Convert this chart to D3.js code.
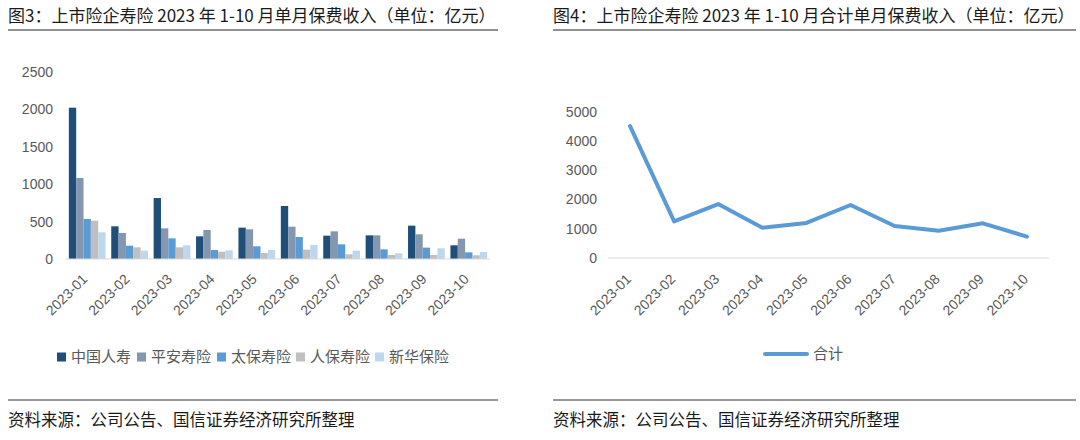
<!DOCTYPE html>
<html>
<head>
<meta charset="utf-8">
<script src="https://cdn.jsdelivr.net/npm/d3@7"></script>
<style>
  body { margin: 0; background: #fff; }
  text { font-family: "Liberation Sans", "Noto Sans CJK SC", sans-serif; }
  .cjk { font-family: "Noto Sans CJK SC", sans-serif; }
</style>
</head>
<body>
<div class="chart"></div>
<script>
var months = ["2023-01","2023-02","2023-03","2023-04","2023-05","2023-06","2023-07","2023-08","2023-09","2023-10"];
var companies = ["中国人寿","平安寿险","太保寿险","人保寿险","新华保险"];

// monthly premium by company (亿元)
var chinaLife = [2023, 437, 815, 303, 419, 709, 312, 316, 446, 183];
var pingAn    = [1083, 348, 410, 388, 397, 432, 370, 316, 330, 272];
var cpic      = [535, 178, 276, 120, 169, 294, 196, 129, 152, 89];
var picc      = [512, 156, 156, 98, 80, 125, 62, 53, 53, 49];
var nci       = [357, 111, 183, 116, 120, 187, 111, 76, 143, 94];
var seriesValues = [chinaLife, pingAn, cpic, picc, nci];

// total
var total = [4510, 1253, 1845, 1036, 1200, 1811, 1093, 934, 1185, 729];

var barTicks = [0, 500, 1000, 1500, 2000, 2500];
var lineTicks = [0, 1000, 2000, 3000, 4000, 5000];

var colors = ["#1f4e79", "#8497b0", "#5b9bd5", "#bfbfbf", "#bdd7ee"];

var svg = d3.select(".chart").append("svg")
    .attr("width", 1080)
    .attr("height", 440);

// ---------- headers / footers ----------
function frame(x0, x1, title) {
  svg.append("text").attr("class", "cjk")
      .attr("x", x0).attr("y", 22)
      .attr("font-size", 17).attr("fill", "#1a1a1a")
      .text(title);
  svg.append("line")
      .attr("x1", x0).attr("x2", x1).attr("y1", 30).attr("y2", 30)
      .attr("stroke", "#6b6b6b").attr("stroke-width", 1.5);
  svg.append("line")
      .attr("x1", x0).attr("x2", x1).attr("y1", 400).attr("y2", 400)
      .attr("stroke", "#333").attr("stroke-width", 1.2);
  svg.append("text").attr("class", "cjk")
      .attr("x", x0).attr("y", 426)
      .attr("font-size", 16.5).attr("fill", "#1a1a1a")
      .text("资料来源：公司公告、国信证券经济研究所整理");
}
frame(8, 498, "图3：上市险企寿险 2023 年 1-10 月单月保费收入（单位：亿元）");
frame(553, 1076, "图4：上市险企寿险 2023 年 1-10 月合计单月保费收入（单位：亿元）");

// ---------- left: grouped bars ----------
var x0 = d3.scaleBand().domain(months).range([66, 490]).paddingInner(0.134).paddingOuter(0.067);
var x1 = d3.scaleBand().domain(companies).range([0, x0.bandwidth()]);
var y = d3.scaleLinear().domain([0, 2500]).range([259, 72]);

var gBar = svg.append("g");
gBar.selectAll("text.ytick").data(barTicks).enter().append("text")
    .attr("x", 53).attr("y", function(d){ return y(d); }).attr("dy", "0.35em")
    .attr("text-anchor", "end").attr("font-size", 14).attr("fill", "#595959")
    .text(function(d){ return d; });

var groups = gBar.selectAll("g.grp").data(months).enter().append("g")
    .attr("transform", function(d){ return "translate(" + x0(d) + ",0)"; });
groups.selectAll("rect").data(function(m, i){
    return companies.map(function(c, k){ return {c: c, v: seriesValues[k][i], k: k}; });
  }).enter().append("rect")
    .attr("x", function(d){ return x1(d.c); })
    .attr("y", function(d){ return y(d.v); })
    .attr("width", x1.bandwidth())
    .attr("height", function(d){ return y(0) - y(d.v); })
    .attr("fill", function(d){ return colors[d.k]; });

gBar.append("line").attr("x1", 66).attr("x2", 490).attr("y1", y(0)).attr("y2", y(0))
    .attr("stroke", "#d9d9d9").attr("stroke-width", 1.2);

gBar.selectAll("text.xtick").data(months).enter().append("text")
    .attr("transform", function(d){ return "translate(" + (x0(d) + x0.bandwidth()/2 + 1) + "," + 280 + ") rotate(-45)"; })
    .attr("text-anchor", "end").attr("font-size", 14).attr("fill", "#595959")
    .text(function(d){ return d; });

// legend
var legX = [57, 137, 217, 296, 375];
var leg = gBar.selectAll("g.leg").data(companies).enter().append("g")
    .attr("transform", function(d, i){ return "translate(" + legX[i] + ",357)"; });
leg.append("rect").attr("x", 0).attr("y", -4.5).attr("width", 9).attr("height", 9)
    .attr("fill", function(d, i){ return colors[i]; });
leg.append("text").attr("class", "cjk").attr("x", 14).attr("dy", "0.35em")
    .attr("font-size", 15).attr("fill", "#595959")
    .text(function(d){ return d; });

// ---------- right: total line ----------
var xl = d3.scaleBand().domain(months).range([608, 1049]);
var yl = d3.scaleLinear().domain([0, 5000]).range([258, 111.7]);

var gLine = svg.append("g");
gLine.selectAll("text.ytick").data(lineTicks).enter().append("text")
    .attr("x", 597).attr("y", function(d){ return yl(d); }).attr("dy", "0.35em")
    .attr("text-anchor", "end").attr("font-size", 14).attr("fill", "#595959")
    .text(function(d){ return d; });

gLine.append("line").attr("x1", 608).attr("x2", 1049).attr("y1", yl(0)).attr("y2", yl(0))
    .attr("stroke", "#d9d9d9").attr("stroke-width", 1.2);

var line = d3.line()
    .x(function(d, i){ return xl(months[i]) + xl.bandwidth()/2; })
    .y(function(d){ return yl(d); });
gLine.append("path").datum(total)
    .attr("d", line).attr("fill", "none")
    .attr("stroke", "#5b9bd5").attr("stroke-width", 4)
    .attr("stroke-linejoin", "round").attr("stroke-linecap", "round");

gLine.selectAll("text.xtick").data(months).enter().append("text")
    .attr("transform", function(d){ return "translate(" + (xl(d) + xl.bandwidth()/2 + 2) + "," + 280 + ") rotate(-45)"; })
    .attr("text-anchor", "end").attr("font-size", 14).attr("fill", "#595959")
    .text(function(d){ return d; });

gLine.append("line").attr("x1", 765).attr("x2", 807).attr("y1", 354).attr("y2", 354)
    .attr("stroke", "#5b9bd5").attr("stroke-width", 4).attr("stroke-linecap", "round");
gLine.append("text").attr("class", "cjk").attr("x", 813).attr("y", 354).attr("dy", "0.35em")
    .attr("font-size", 15).attr("fill", "#595959").text("合计");
</script>
</body>
</html>
